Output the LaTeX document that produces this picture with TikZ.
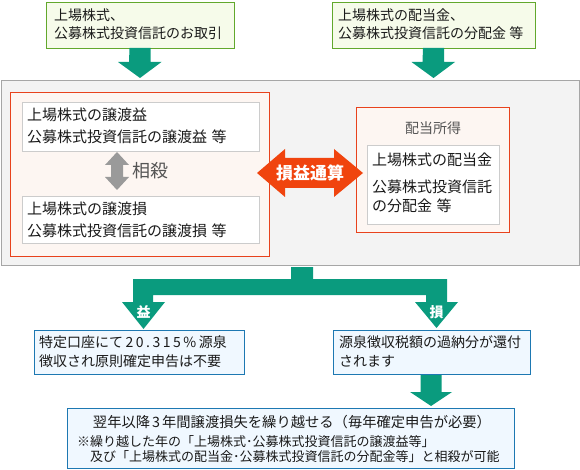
\documentclass[tikz,border=0pt]{standalone}
\usepackage{fontspec}
\setmainfont{Noto Sans CJK JP}
\usetikzlibrary{calc}
\definecolor{tgreen}{HTML}{0A9B7E}
\definecolor{lgreen}{HTML}{62A82C}
\definecolor{lgreenfill}{HTML}{F6FBEA}
\definecolor{gborder}{HTML}{A6A6A6}
\definecolor{gfill}{HTML}{F3F3F3}
\definecolor{oborder}{HTML}{E8421C}
\definecolor{ofill}{HTML}{FDF6F2}
\definecolor{oarrow}{HTML}{F0440E}
\definecolor{wborder}{HTML}{CCCCCC}
\definecolor{bborder}{HTML}{1D78B2}
\definecolor{bfill}{HTML}{F0F8FF}
\definecolor{darrow}{HTML}{9A9A9A}
\definecolor{txtc}{HTML}{1A1A1A}
\definecolor{subtxt}{HTML}{555555}
\newcommand\dg{\hspace{2.5pt}}
\begin{document}
\begin{tikzpicture}[x=1pt,y=-1pt,
  boxbase/.style={line width=1pt, inner sep=0pt, anchor=north west},
  greenbox/.style={boxbase, draw=lgreen, fill=lgreenfill},
  greybox/.style={boxbase, draw=gborder, fill=gfill},
  orangebox/.style={boxbase, draw=oborder, fill=ofill},
  whitebox/.style={boxbase, draw=wborder, fill=white},
  bluebox/.style={boxbase, draw=bborder, fill=bfill},
  txtA/.style={inner sep=0pt, anchor=west, align=left, text=txtc, font=\fontsize{14}{18}\selectfont},
  txtB/.style={inner sep=0pt, anchor=west, align=left, text=txtc, font=\fontsize{15}{22}\selectfont},
  txtC/.style={inner sep=0pt, anchor=west, align=left, text=txtc, font=\fontsize{14}{19}\selectfont},
  txtD/.style={inner sep=0pt, anchor=west, align=left, text=txtc, font=\fontsize{13}{15}\selectfont},
  whitelbl/.style={inner sep=0pt, text=white, font=\bfseries\fontsize{14}{16}\selectfont},
]
\useasboundingbox (0,0) rectangle (580,470);

% top boxes
\node[greenbox, minimum width=188, minimum height=46] (b1) at (46,2) {};
\node[txtA] (b1t) at (54,24) {上場株式、\\公募株式投資信託のお取引};
\node[greenbox, minimum width=203, minimum height=46] (b2) at (332,2) {};
\node[txtA] (b2t) at (338,24) {上場株式の配当金、\\公募株式投資信託の分配金 等};

% grey main box
\node[greybox, minimum width=578, minimum height=185] (grey) at (1,80) {};

% top arrows
\coordinate (a1s) at (140,48);
\coordinate (a1e) at (140,78);
\coordinate (a2s) at (433.5,48);
\coordinate (a2e) at (433.5,78);
\fill[tgreen] (a1s) ++(-10.5,0) -- ++(21,0) -- ++(0,14) -- ++(11,0) -- (a1e) -- ++(-22,-16) -- ++(11,0) -- cycle;
\fill[tgreen] (a2s) ++(-10.5,0) -- ++(21,0) -- ++(0,14) -- ++(11,0) -- (a2e) -- ++(-22,-16) -- ++(11,0) -- cycle;

% left orange box
\node[orangebox, minimum width=259, minimum height=164] (ol) at (10,92) {};
\node[whitebox, minimum width=237, minimum height=49] (w1) at (22,102) {};
\node[txtB] (w1t) at (27,126) {上場株式の譲渡益\\公募株式投資信託の譲渡益\hspace{0.3em}等};
\node[whitebox, minimum width=237, minimum height=47] (w2) at (22,196) {};
\node[txtB] (w2t) at (27,219.5) {上場株式の譲渡損\\公募株式投資信託の譲渡損\hspace{0.3em}等};

% grey double arrow
\coordinate (g1) at (117,152);
\coordinate (g2) at (117,190);
\fill[darrow] (g1) -- ++(12,13) -- ++(-6,0) -- ++(0,12) -- ++(6,0) -- (g2) -- ++(-12,-13) -- ++(6,0) -- ++(0,-12) -- ++(-6,0) -- cycle;
\node[inner sep=0pt, anchor=west, text=subtxt, font=\fontsize{18}{20}\selectfont] (sousai) at (132,171) {相殺};

% right orange box
\node[orangebox, minimum width=153, minimum height=125] (or) at (356,107) {};
\node[inner sep=0pt, text=subtxt, font=\fontsize{14}{16}\selectfont] (haito) at (433,128) {配当所得};
\node[whitebox, minimum width=132, minimum height=79] (w3) at (367,145) {};
\node[txtB] (w3a) at (372,160) {上場株式の配当金};
\node[txtB, font=\fontsize{15}{19}\selectfont] (w3b) at (372,196.5) {公募株式投資信託\\の分配金\hspace{0.3em}等};

% orange double arrow
\coordinate (o1) at (257,173);
\coordinate (o2) at (363,173);
\fill[oarrow] (o1) -- (285,149) -- (285,158) -- (334,158) -- (334,149) -- (o2) -- (334,197) -- (334,188) -- (285,188) -- (285,197) -- cycle;
\node[whitelbl, font=\bfseries\fontsize{17}{19}\selectfont] (tsusan) at (310,173) {損益通算};

% branch connector
\coordinate (split) at (302,267);
\coordinate (tipL) at (143.5,329);
\coordinate (tipR) at (436.5,328);
\fill[tgreen] (291,267) -- (313,267) -- (313,279) -- (447,279) -- (447,302) -- (458,302) -- (tipR) -- (415,302) -- (426,302) -- (426,295) -- (153,295) -- (153,302) -- (165,302) -- (tipL) -- (122,302) -- (133,302) -- (133,279) -- (291,279) -- cycle;
\node[whitelbl] (eki) at (143.5,312) {益};
\node[whitelbl] (son) at (436.5,312) {損};

% blue boxes
\node[bluebox, minimum width=210, minimum height=44] (bl) at (34,330) {};
\node[txtC] (blt) at (39,351.5) {特定口座にて\dg 2\dg 0\dg .\dg 3\dg 1\dg 5\dg \%\dg 源泉\\徴収され原則確定申告は不要};
\node[bluebox, minimum width=197, minimum height=44] (br) at (333,330) {};
\node[txtC] (brt) at (339,351.5) {源泉徴収税額の過納分が還付\\されます};

% bottom arrow
\coordinate (a3s) at (431,375);
\coordinate (a3e) at (431,406);
\fill[tgreen] (a3s) ++(-10.5,0) -- ++(21,0) -- ++(0,17) -- ++(10.5,0) -- (a3e) -- ++(-21,-14) -- ++(10.5,0) -- cycle;

% bottom box
\node[bluebox, minimum width=447, minimum height=60] (bb) at (67,408) {};
\node[inner sep=0pt, text=txtc, font=\fontsize{14.3}{16}\selectfont] (bb1) at (292,422) {翌年以降\hspace{2pt}3\hspace{2pt}年間譲渡損失を繰り越せる（毎年確定申告が必要）};
\node[txtD] (bb2) at (77,442) {※繰り越した年の「上場株式･公募株式投資信託の譲渡益等」};
\node[txtD] (bb3) at (90,457) {及び「上場株式の配当金･公募株式投資信託の分配金等」と相殺が可能};
\end{tikzpicture}
\end{document}
